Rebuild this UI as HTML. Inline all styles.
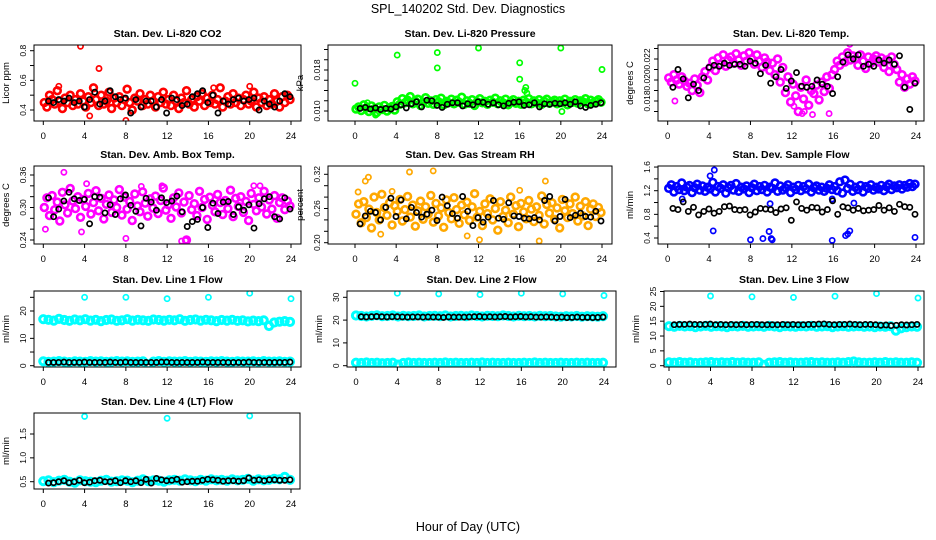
<!DOCTYPE html>
<html><head><meta charset="utf-8"><style>
body{margin:0;background:#fff;}
svg{display:block;font-family:"Liberation Sans",Arial,sans-serif;}
</style></head><body>
<svg id="chart" width="936" height="540" viewBox="0 0 936 540">
<rect width="936" height="540" fill="#fff"/>
<text x="468" y="13" font-size="12.5" text-anchor="middle">SPL_140202  Std. Dev. Diagnostics</text>
<text x="468" y="531" font-size="12.5" text-anchor="middle">Hour of Day (UTC)</text>
</svg>
<script>
// ---- data ----
const xTickLabels=[0,4,8,12,16,20,24];
const co2Red=[0.45,0.42,0.50,0.47,0.44,0.53,0.46,0.41,0.48,0.45,0.50,0.43,0.47,0.44,0.51,0.46,0.42,0.49,0.45,0.55,0.47,0.43,0.50,0.44,0.46,0.52,0.41,0.48,0.45,0.49,0.43,0.47,0.54,0.45,0.40,0.48,0.46,0.51,0.43,0.47,0.44,0.50,0.46,0.42,0.49,0.45,0.52,0.44,0.47,0.43,0.50,0.46,0.41,0.48,0.45,0.53,0.44,0.47,0.42,0.49,0.46,0.51,0.43,0.48,0.45,0.50,0.44,0.47,0.55,0.42,0.46,0.49,0.44,0.51,0.45,0.48,0.43,0.47,0.50,0.44,0.46,0.52,0.42,0.48,0.45,0.49,0.43,0.47,0.44,0.51,0.46,0.42,0.49,0.45,0.50,0.47];
const co2OutHours=[3.6,5.4,8.0,4.5,1.5,16.5,20.0];
const co2OutVals=[0.83,0.68,0.33,0.36,0.56,0.55,0.56];
const co2Black=[0.46,0.45,0.47,0.46,0.48,0.45,0.46,0.42,0.47,0.52,0.44,0.46,0.53,0.49,0.47,0.48,0.38,0.47,0.42,0.46,0.46,0.42,0.47,0.38,0.48,0.47,0.43,0.44,0.49,0.51,0.53,0.45,0.50,0.38,0.46,0.44,0.47,0.48,0.46,0.47,0.48,0.40,0.46,0.44,0.42,0.46,0.51,0.49];
const presGreen=[0.0104,0.0108,0.0101,0.0112,0.0106,0.0099,0.0110,0.0104,0.0097,0.0108,0.0103,0.0111,0.0100,0.0106,0.0109,0.0102,
0.0118,0.0113,0.0124,0.0116,0.0121,0.0128,0.0114,0.0119,0.0123,0.0111,0.0117,0.0126,0.0115,0.0120,0.0113,0.0122,0.0118,0.0125,0.0112,0.0119,
0.0116,0.0123,0.0114,0.0121,0.0117,0.0127,0.0113,0.0120,0.0115,0.0122,0.0111,0.0118,0.0124,0.0116,0.0119,0.0113,0.0121,0.0117,0.0125,0.0114,
0.0120,0.0116,0.0123,0.0112,0.0118,0.0122,0.0115,0.0119,0.0113,0.0121,0.0117,0.0124,0.0114,0.0120,0.0116,0.0122,0.0113,0.0119,0.0123,0.0115,
0.0118,0.0121,0.0114,0.0120,0.0116,0.0123,0.0112,0.0119,0.0117,0.0122,0.0115,0.0120,0.0118,0.0124,0.0114,0.0121,0.0116,0.0119,0.0122,0.0117];
const presOutHours=[0,4.1,8,8,12,16,16,20,24,20.1,16.5,16.6,16.7,2.0,1.2];
const presOutVals=[0.0154,0.0209,0.0214,0.0184,0.0223,0.0194,0.0162,0.0223,0.0181,0.0099,0.0140,0.0146,0.0135,0.0092,0.0116];
const presBlack=[0.0105,0.0107,0.0104,0.0106,0.0103,0.0105,0.0104,0.0108,0.0112,0.0106,0.0114,0.0118,0.0108,0.0121,0.0120,0.0111,0.0107,0.0113,0.0116,0.0116,0.0110,0.0114,0.0112,0.0118,0.0117,0.0113,0.0116,0.0112,0.0110,0.0115,0.0117,0.0118,0.0111,0.0112,0.0116,0.0108,0.0114,0.0113,0.0115,0.0114,0.0116,0.0113,0.0118,0.0110,0.0107,0.0111,0.0113,0.0116];
const tempMag=[0.0202,0.0198,0.0205,0.0200,0.0196,0.0203,0.0199,0.0194,0.0197,0.0190,0.0201,0.0195,0.0188,0.0203,0.0208,0.0200,0.0212,0.0218,0.0209,0.0221,0.0215,0.0224,0.0213,0.0219,0.0222,0.0216,0.0225,0.0219,0.0214,0.0223,0.0218,0.0226,0.0220,0.0215,0.0224,0.0218,0.0212,0.0221,0.0217,0.0209,0.0216,0.0205,0.0220,0.0198,0.0212,0.0188,0.0203,0.0179,0.0196,0.0185,0.0170,0.0193,0.0182,0.0200,0.0176,0.0190,0.0187,0.0195,0.0181,0.0198,0.0189,0.0203,0.0192,0.0205,0.0210,0.0218,0.0214,0.0222,0.0217,0.0226,0.0219,0.0223,0.0220,0.0214,0.0224,0.0218,0.0211,0.0222,0.0216,0.0220,0.0223,0.0217,0.0221,0.0212,0.0219,0.0208,0.0222,0.0215,0.0210,0.0198,0.0205,0.0193,0.0201,0.0196,0.0203,0.0199];
const tempOutHours=[13.0,13.2,14.0,15.6,12.2,17.6,0.7];
const tempOutVals=[0.0168,0.0170,0.0167,0.0168,0.0175,0.0234,0.0180];
const tempBlack=[0.0193,0.0210,0.0201,0.0183,0.0196,0.0190,0.0202,0.0212,0.0214,0.0213,0.0216,0.0214,0.0215,0.0215,0.0213,0.0218,0.0216,0.0206,0.0214,0.0197,0.0203,0.0210,0.0192,0.0199,0.0207,0.0194,0.0193,0.0194,0.0200,0.0196,0.0194,0.0187,0.0203,0.0217,0.0224,0.0220,0.0224,0.0213,0.0215,0.0213,0.0219,0.0216,0.0219,0.0215,0.0223,0.0193,0.0172,0.0197];
const ambMag=[0.300,0.318,0.285,0.322,0.296,0.310,0.275,0.328,0.305,0.290,0.335,0.312,0.298,0.320,0.282,0.315,0.302,0.326,0.288,0.309,0.331,0.294,0.317,0.279,0.306,0.323,0.291,0.314,0.300,0.333,0.286,0.319,0.297,0.311,0.276,0.325,0.303,0.292,0.329,0.308,0.284,0.316,0.299,0.321,0.289,0.313,0.336,0.295,0.305,0.280,0.318,0.301,0.327,0.290,0.310,0.240,0.322,0.296,0.307,0.285,0.330,0.300,0.315,0.278,0.319,0.304,0.292,0.324,0.309,0.287,0.313,0.298,0.332,0.283,0.317,0.302,0.320,0.291,0.311,0.276,0.326,0.306,0.294,0.318,0.301,0.330,0.288,0.314,0.297,0.322,0.280,0.309,0.318,0.296,0.312,0.303];
const ambOutHours=[2.0,4.2,0.2,8.0,13.4,13.8,11.5,9.5,20.4,21.0,3.7];
const ambOutVals=[0.365,0.344,0.260,0.243,0.238,0.239,0.340,0.339,0.340,0.340,0.255];
const ambBlack=[0.318,0.283,0.297,0.312,0.328,0.316,0.313,0.315,0.270,0.320,0.319,0.290,0.305,0.287,0.316,0.323,0.304,0.293,0.266,0.317,0.310,0.295,0.318,0.309,0.312,0.321,0.292,0.265,0.274,0.278,0.300,0.263,0.308,0.289,0.310,0.311,0.287,0.301,0.295,0.305,0.262,0.307,0.316,0.320,0.283,0.279,0.318,0.297];
const rhOrange=[0.250,0.268,0.235,0.272,0.244,0.259,0.226,0.280,0.253,0.240,0.285,0.262,0.248,0.270,0.231,0.265,0.255,0.276,0.238,0.258,0.281,0.245,0.266,0.229,0.256,0.273,0.241,0.263,0.250,0.283,0.236,0.269,0.247,0.261,0.227,0.275,0.253,0.242,0.279,0.258,0.234,0.266,0.249,0.271,0.239,0.263,0.286,0.245,0.255,0.230,0.268,0.251,0.277,0.240,0.260,0.222,0.272,0.246,0.257,0.235,0.280,0.250,0.265,0.228,0.269,0.254,0.242,0.274,0.259,0.237,0.263,0.248,0.282,0.233,0.267,0.252,0.270,0.241,0.261,0.226,0.276,0.256,0.244,0.268,0.251,0.280,0.238,0.264,0.247,0.272,0.230,0.259,0.268,0.246,0.262,0.253];
const rhOutHours=[0.3,1.0,1.3,5.3,7.6,17.9,12.1,18.5,2.5,10.9,3.6,16.0];
const rhOutVals=[0.289,0.308,0.315,0.324,0.326,0.203,0.205,0.308,0.215,0.212,0.290,0.292];
const rhBlack=[0.233,0.247,0.255,0.253,0.240,0.262,0.278,0.246,0.275,0.242,0.262,0.253,0.245,0.250,0.257,0.239,0.280,0.265,0.251,0.243,0.281,0.255,0.230,0.244,0.236,0.245,0.274,0.243,0.241,0.270,0.247,0.246,0.243,0.242,0.244,0.240,0.274,0.281,0.238,0.246,0.276,0.244,0.248,0.252,0.246,0.245,0.255,0.238];
const flowBlue=[1.24,1.30,1.18,1.27,1.22,1.33,1.20,1.26,1.29,1.17,1.25,1.31,1.21,1.28,1.19,1.26,1.23,1.34,1.18,1.27,1.24,1.30,1.16,1.25,1.29,1.21,1.32,1.19,1.26,1.23,1.28,1.17,1.25,1.31,1.20,1.27,1.22,1.29,1.18,1.26,1.24,1.33,1.19,1.28,1.21,1.25,1.30,1.17,1.26,1.22,1.29,1.20,1.27,1.23,1.31,1.18,1.25,1.28,1.21,1.26,1.19,1.24,1.30,1.22,1.27,1.20,1.35,1.16,1.38,1.24,1.31,1.19,1.26,1.22,1.29,1.18,1.27,1.24,1.30,1.21,1.26,1.23,1.29,1.20,1.27,1.31,1.22,1.28,1.25,1.30,1.23,1.29,1.26,1.32,1.27,1.31];
const flowOutHours=[4.1,4.5,4.4,8.0,9.2,9.8,10.0,10.1,15.9,17.2,17.4,17.6,23.9,9.9,1.4,15.9,18.0];
const flowOutVals=[1.45,1.55,0.52,0.37,0.39,0.51,0.39,0.37,0.36,0.44,0.47,0.52,0.41,0.98,1.06,1.06,0.99];
const flowBlack=[0.90,0.88,1.01,0.85,0.92,0.79,0.85,0.89,0.82,0.85,0.93,0.94,0.88,0.87,0.88,0.79,0.84,0.90,0.89,0.88,0.83,0.89,0.91,0.70,1.01,0.90,0.87,0.92,0.91,0.84,0.88,1.03,0.80,0.93,0.91,0.87,0.90,0.86,0.87,0.88,0.95,0.87,0.91,0.85,0.97,0.93,0.92,0.80];
const l1Upper=[17.0,16.8,16.5,17.1,16.7,16.4,16.9,16.6,17.0,16.5,16.8,16.3,16.7,16.9,16.4,16.6,17.0,16.5,16.8,16.6,16.4,16.9,16.7,16.5,16.8,16.6,17.0,16.4,16.7,16.9,16.5,16.8,16.6,16.3,16.7,16.5,16.8,16.4,16.6,16.2,16.5,16.3,16.6,14.5,15.8,16.1,16.3,16.0];
const l1Lower=[1.6,1.4,1.5,1.7,1.5,1.3,1.6,1.5,1.4,1.7,1.5,1.6,1.4,1.5,1.7,1.5,1.6,1.4,1.5,1.6,0.5,1.5,1.7,1.4,1.6,1.5,1.5,1.7,1.4,1.6,1.5,1.4,1.6,1.5,1.7,1.5,1.4,1.6,1.5,1.5,1.6,1.4,1.7,1.5,1.5,1.6,1.4,1.5];
const l1Black=[1.2,1.2,1.2,1.3,1.2,1.2,1.2,1.3,1.2,1.2,1.2,1.2,1.3,1.2,1.2,1.3,1.2,1.2,1.2,1.2,1.2,1.2,1.3,1.3,1.2,1.2,1.2,1.2,1.2,1.2,1.3,1.2,1.2,1.2,1.2,1.2,1.2,1.2,1.2,1.3,1.2,1.2,1.2,1.2,1.2,1.2,1.2,1.3];
const l1OutHours=[4,8,12,16,20,24];
const l1OutVals=[25.0,25.0,24.5,25.0,26.5,24.5];
const l2Upper=[22.0,21.8,21.6,21.9,22.1,21.7,21.8,22.0,21.6,21.9,21.7,21.8,22.0,21.6,21.8,21.9,21.7,22.0,21.6,21.8,21.9,21.7,22.0,21.8,21.6,21.9,21.8,21.7,22.0,21.8,21.6,21.9,21.7,21.8,21.6,21.9,21.7,21.8,21.6,21.5,21.7,21.6,21.8,21.5,21.7,21.6,21.5,21.7];
const l2Lower=[1.3,1.2,1.4,1.2,1.3,1.1,1.2,1.3,0.5,1.2,1.4,1.2,1.3,1.2,1.2,1.3,1.2,1.4,1.2,1.3,1.2,1.2,1.3,1.2,1.4,1.2,1.3,1.2,1.2,1.3,1.2,1.2,1.3,1.2,1.4,1.2,1.3,1.2,1.2,1.3,1.2,1.2,1.3,1.2,1.3,1.2,1.2,1.3];
const l2Black=[21.5,21.4,21.5,21.6,21.5,21.4,21.5,21.5,21.4,21.3,21.4,21.4,21.3,21.4,21.3,21.3,21.2,21.4,21.3,21.3,21.3,21.4,21.5,21.6,21.4,21.5,21.4,21.5,21.6,21.4,21.5,21.6,21.4,21.5,21.3,21.3,21.4,21.3,21.2,21.3,21.1,21.2,21.3,21.2,21.2,21.1,21.2,21.3];
const l2OutHours=[4,8,12,16,20,24];
const l2OutVals=[31.8,31.5,31.2,31.8,31.5,30.8];
const l3Upper=[13.3,13.1,13.4,13.2,13.3,13.0,13.2,13.4,13.1,13.3,13.2,13.0,13.3,13.2,13.4,13.1,13.2,13.3,13.1,13.4,13.2,13.0,13.3,13.2,13.1,13.3,13.2,13.4,13.1,13.2,13.3,13.0,13.2,13.3,13.1,13.2,13.3,13.1,13.2,13.0,13.2,13.1,13.3,11.8,12.6,13.0,13.2,13.1];
const l3Lower=[1.1,1.0,1.2,1.0,1.1,0.9,1.0,1.1,1.2,1.0,1.1,1.0,1.2,1.0,1.1,1.0,1.0,1.1,0.3,1.0,1.1,1.2,1.0,1.1,1.0,1.0,1.1,1.2,1.0,1.1,1.0,1.0,1.1,1.0,1.2,1.4,1.1,1.0,1.0,1.1,1.0,1.2,1.0,1.1,1.0,1.0,1.1,1.0];
const l3Black=[13.8,13.9,13.9,14.0,13.9,13.9,13.9,14.0,13.8,13.9,13.8,13.9,13.8,13.9,13.8,13.9,13.9,13.8,13.8,13.8,13.8,13.9,13.8,13.9,13.8,13.8,13.9,13.9,14.0,14.1,13.9,13.8,13.9,13.9,14.0,13.9,13.8,13.9,13.9,13.8,13.6,13.7,13.5,13.6,13.8,13.7,13.8,13.9];
const l3OutHours=[4,8,12,16,20,24];
const l3OutVals=[23.5,23.2,23.0,23.4,24.3,22.8];
const l4Cyan=[0.51,0.53,0.49,0.52,0.54,0.50,0.48,0.53,0.51,0.50,0.49,0.52,0.54,0.50,0.51,0.53,0.52,0.49,0.52,0.55,0.51,0.53,0.52,0.50,0.53,0.54,0.52,0.55,0.53,0.51,0.54,0.52,0.55,0.53,0.54,0.52,0.55,0.53,0.54,0.56,0.52,0.55,0.53,0.54,0.56,0.55,0.60,0.54];
const l4Black=[0.47,0.48,0.50,0.52,0.48,0.50,0.53,0.48,0.49,0.52,0.53,0.50,0.50,0.52,0.48,0.52,0.50,0.52,0.48,0.55,0.47,0.57,0.54,0.52,0.53,0.55,0.49,0.50,0.51,0.51,0.53,0.55,0.54,0.53,0.51,0.52,0.52,0.51,0.52,0.58,0.53,0.54,0.52,0.54,0.54,0.53,0.53,0.54];
const l4OutHours=[4,12,20];
const l4OutVals=[1.87,1.83,1.88];

// ---- drawing ----
const NS="http://www.w3.org/2000/svg";
const svg=document.getElementById('chart');
function mk(tag,attrs,parent){const e=document.createElementNS(NS,tag);for(const k in attrs)e.setAttribute(k,attrs[k]);parent.appendChild(e);return e;}
function denseHours(n,start,end){const a=[];for(let i=0;i<n;i++)a.push(start+i*(end-start)/(n-1));return a;}

function panel(p){
  const g=mk('g',{},svg);
  
  
  const xs=v=>p.x0+(p.x24-p.x0)*v/24;
  const ys=v=>p.ya+(p.yb-p.ya)*(v-p.va)/(p.vb-p.va);
  const [L,T,R,B]=p.box;
  const t=mk('text',{x:(L+R)/2,y:T-8,'font-size':10.5,'font-weight':'bold','text-anchor':'middle'},g);
  t.textContent=p.title;
  
  
  const clip='c_'+p.name;
  const cp=mk('clipPath',{id:clip},g);mk('rect',{x:L,y:T,width:R-L,height:B-T},cp);
  const pts=mk('g',{'clip-path':'url(#'+clip+')',fill:'none'},g);
  
  
  p.series.forEach(s=>{
    const hrs=s.hours||denseHours(s.vals.length,s.t0,s.t1);
    s.vals.forEach((v,i)=>{
      const c=mk('circle',{cx:xs(hrs[i]).toFixed(1),cy:ys(v).toFixed(1),r:s.r||2.6,stroke:s.color,'stroke-width':s.w||1.7},pts);
      
      
    });
  });
  const box=mk('rect',{x:L,y:T,width:R-L,height:B-T,fill:'none',stroke:'#000','stroke-width':1},g);
  
  
  mk('line',{x1:xs(0),x2:xs(24),y1:B,y2:B,stroke:'#000'},g);
  xTickLabels.forEach(h=>{
    mk('line',{x1:xs(h),x2:xs(h),y1:B,y2:B+4,stroke:'#000'},g);
    const tl=mk('text',{x:xs(h),y:B+18,'font-size':9.5,'text-anchor':'middle'},g);
    tl.textContent=h;
    
    
  });
  mk('line',{x1:L,x2:L,y1:ys(p.yticks[0]),y2:ys(p.yticks[p.yticks.length-1]),stroke:'#000'},g);
  p.yticks.forEach(v=>{mk('line',{x1:L-4,x2:L,y1:ys(v),y2:ys(v),stroke:'#000'},g);});
  p.ylabels.forEach(v=>{
    const yy=ys(v);
    const tl=mk('text',{x:L-8,y:yy,'font-size':8.5,'text-anchor':'middle',transform:`rotate(-90 ${L-8} ${yy})`},g);
    tl.textContent=v.toFixed(p.dec);
    
    
  });
  const yt=mk('text',{x:L-25,y:(T+B)/2,'font-size':9.5,'text-anchor':'middle',transform:`rotate(-90 ${L-25} ${(T+B)/2})`},g);
  yt.textContent=p.ylab;
  
  
}

const blackHours=denseHours(48,0.5,23.9);
const D={r:3.4,w:2.6};
const B3={r:3.6,w:3};
panel({name:'co2',title:'Stan. Dev. Li-820 CO2',box:[34,45,301,121],x0:43.3,x24:291,va:0.4,ya:110,vb:0.8,yb:50.7,yticks:[0.4,0.5,0.6,0.7,0.8],ylabels:[0.4,0.6,0.8],dec:1,ylab:'Licor ppm',
 series:[{vals:co2Red,t0:0.1,t1:23.9,color:'#f00',...D},{vals:co2OutVals,hours:co2OutHours,color:'#f00'},{vals:co2Black,hours:blackHours,color:'#000'}]});
panel({name:'pressure',title:'Stan. Dev. Li-820 Pressure',box:[328,45,612,121],x0:355,x24:602,va:0.010,ya:111,vb:0.018,yb:70,yticks:[0.010,0.012,0.014,0.016,0.018,0.020,0.022],ylabels:[0.010,0.018],dec:3,ylab:'kPa',
 series:[{vals:presGreen,t0:0.1,t1:23.9,color:'#0f0',...D},{vals:presOutVals,hours:presOutHours,color:'#0f0'},{vals:presBlack,hours:blackHours,color:'#000'}]});
panel({name:'li820-temp',title:'Stan. Dev. Li-820 Temp.',box:[658,45,924,121],x0:667.7,x24:916,va:0.018,ya:101,vb:0.022,yb:59,yticks:[0.017,0.018,0.019,0.020,0.021,0.022,0.023],ylabels:[0.018,0.020,0.022],dec:3,ylab:'degrees C',
 series:[{vals:tempMag,t0:0.1,t1:23.9,color:'#f0f',...D},{vals:tempOutVals,hours:tempOutHours,color:'#f0f'},{vals:tempBlack,hours:blackHours,color:'#000'}]});
panel({name:'amb-box-temp',title:'Stan. Dev. Amb. Box Temp.',box:[34,166,301,244],x0:43.3,x24:291,va:0.24,ya:240,vb:0.36,yb:175,yticks:[0.24,0.26,0.28,0.30,0.32,0.34,0.36],ylabels:[0.24,0.30,0.36],dec:2,ylab:'degrees C',
 series:[{vals:ambMag,t0:0.1,t1:23.9,color:'#f0f',...D},{vals:ambOutVals,hours:ambOutHours,color:'#f0f'},{vals:ambBlack,hours:blackHours,color:'#000'}]});
panel({name:'gas-stream-rh',title:'Stan. Dev. Gas Stream RH',box:[328,166,612,244],x0:355,x24:602,va:0.20,ya:242.7,vb:0.32,yb:174.3,yticks:[0.20,0.22,0.24,0.26,0.28,0.30,0.32],ylabels:[0.20,0.26,0.32],dec:2,ylab:'percent',
 series:[{vals:rhOrange,t0:0.1,t1:23.9,color:'#ffa800',...D},{vals:rhOutVals,hours:rhOutHours,color:'#ffa800'},{vals:rhBlack,hours:blackHours,color:'#000'}]});
panel({name:'sample-flow',title:'Stan. Dev. Sample Flow',box:[658,166,924,244],x0:667.7,x24:916,va:0.4,ya:238,vb:1.2,yb:190.7,yticks:[0.4,0.6,0.8,1.0,1.2,1.4,1.6],ylabels:[0.4,0.8,1.2,1.6],dec:1,ylab:'ml/min',
 series:[{vals:flowBlue,t0:0.1,t1:23.9,color:'#00f',...D},{vals:flowOutVals,hours:flowOutHours,color:'#00f'},{vals:flowBlack,hours:blackHours,color:'#000'}]});
panel({name:'line1-flow',title:'Stan. Dev. Line 1 Flow',box:[34,291,301,367],x0:43.3,x24:291,va:0,ya:365.7,vb:20,yb:311,yticks:[0,5,10,15,20,25],ylabels:[0,10,20],dec:0,ylab:'ml/min',
 series:[{vals:l1Upper,t0:0,t1:23.9,color:'#0ff',...B3},{vals:l1Lower,t0:0,t1:23.9,color:'#0ff',...B3},{vals:l1OutVals,hours:l1OutHours,color:'#0ff'},{vals:l1Black,hours:blackHours,color:'#000'}]});
panel({name:'line2-flow',title:'Stan. Dev. Line 2 Flow',box:[347,291,616,367],x0:356,x24:604,va:0,ya:365.7,vb:30,yb:297.3,yticks:[0,10,20,30],ylabels:[0,10,20,30],dec:0,ylab:'ml/min',
 series:[{vals:l2Upper,t0:0,t1:23.9,color:'#0ff',...B3},{vals:l2Lower,t0:0,t1:23.9,color:'#0ff',...B3},{vals:l2OutVals,hours:l2OutHours,color:'#0ff'},{vals:l2Black,hours:blackHours,color:'#000'}]});
panel({name:'line3-flow',title:'Stan. Dev. Line 3 Flow',box:[664,291,924,367],x0:669,x24:918,va:0,ya:365.7,vb:25,yb:291.5,yticks:[0,5,10,15,20,25],ylabels:[0,5,10,15,20,25],dec:0,ylab:'ml/min',
 series:[{vals:l3Upper,t0:0,t1:23.9,color:'#0ff',...B3},{vals:l3Lower,t0:0,t1:23.9,color:'#0ff',...B3},{vals:l3OutVals,hours:l3OutHours,color:'#0ff'},{vals:l3Black,hours:blackHours,color:'#000'}]});
panel({name:'line4-flow',title:'Stan. Dev. Line 4 (LT) Flow',box:[34,413,300,489],x0:43.3,x24:291,va:0.5,ya:481.7,vb:1.5,yb:434,yticks:[0.5,1.0,1.5],ylabels:[0.5,1.0,1.5],dec:1,ylab:'ml/min',
 series:[{vals:l4Cyan,t0:0,t1:23.9,color:'#0ff',...B3},{vals:l4OutVals,hours:l4OutHours,color:'#0ff'},{vals:l4Black,hours:blackHours,color:'#000'}]});
</script>
</body></html>
